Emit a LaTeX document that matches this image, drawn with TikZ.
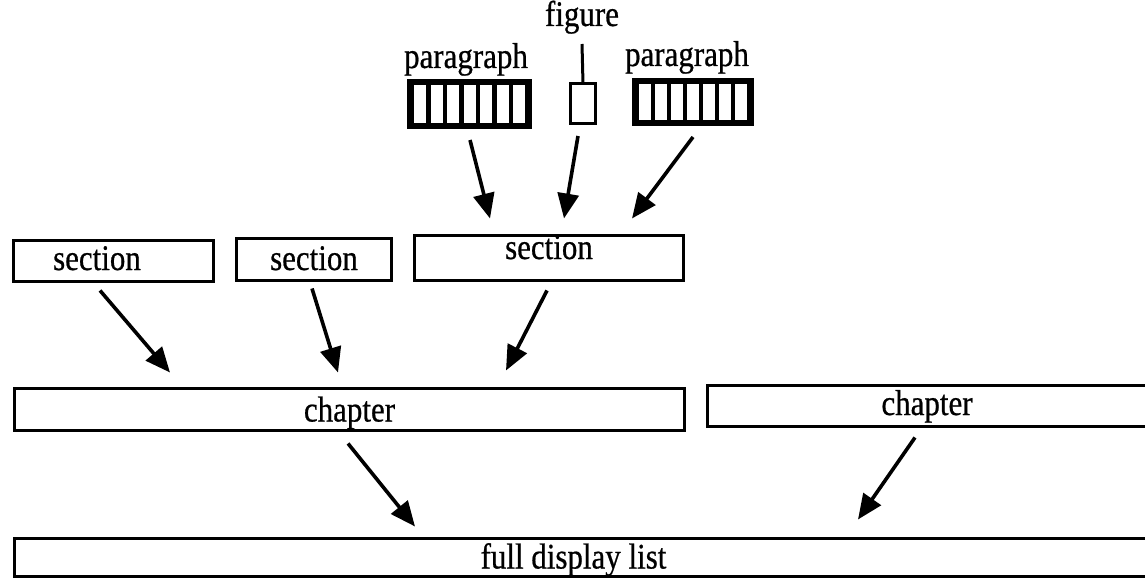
\documentclass[tikz,border=0pt]{standalone}
\usepackage{fontspec}
\setmainfont{Liberation Serif}[FakeStretch=0.86,FakeBold=0.6]
\usetikzlibrary{arrows.meta,calc}

% seven white cells inside a filled paragraph block: node, cell width, cell height
\newcommand\paracells[3]{%
  \foreach \i in {0,...,6}{%
    \fill[white] ([xshift={7pt+\i*(#2pt+4.5pt)},yshift=-6pt]#1.north west)
      rectangle ++(#2pt,-#3pt);}}

\begin{document}
\begin{tikzpicture}[x=1pt,y=-1pt,
  every node/.style={font=\fontsize{36}{40}\selectfont, inner sep=0pt, outer sep=0pt},
  box/.style={draw, line width=3pt, rectangle, text height=21pt, text depth=0pt},
  parblock/.style={fill=black, rectangle},
  figbox/.style={draw, line width=3pt, rectangle, minimum width=25pt, minimum height=40pt},
  arr/.style={line width=3.6pt, -{Triangle[length=25pt,width=21pt]}},
  tick/.style={line width=3pt}]
\useasboundingbox (0,0) rectangle (1145,580);
\clip (0,0) rectangle (1145,580);
\fill[white] (0,0) rectangle (1145,580);

% paragraph blocks and the figure
\node[parblock, minimum width=125pt, minimum height=50pt] (p1) at (469.5,104) {};
\paracells{p1}{12}{38}
\node[figbox] (fig) at (583,103.5) {};
\node[parblock, minimum width=122pt, minimum height=48pt] (p2) at (693,102) {};
\paracells{p2}{11.5}{36}

% their labels
\node[anchor=base] (lp1) at (466,68) {paragraph};
\node[anchor=base] (lfig) at (582,26) {figure};
\node[anchor=base] (lp2) at (687,66) {paragraph};
\coordinate (figtick) at (582,44);
\draw[tick] (fig.north) -- (figtick);

% sections
\node[box, minimum width=200pt, minimum height=41pt, text depth=3pt] (s1) at (113.5,261) {\hspace*{-33pt}section};
\node[box, minimum width=155pt, minimum height=42pt] (s2) at (314,259.5) {section};
\node[box, minimum width=269pt, minimum height=45pt, text depth=19pt] (s3) at (549,258) {section};

% chapters
\node[box, minimum width=670pt, minimum height=42pt, text height=31pt, text depth=7pt] (ch1) at (349.5,409.5) {chapter};
\node[box, minimum width=439pt, minimum height=41pt, text height=25pt, text depth=7pt] (ch2) at (927,406) {chapter};

% the whole list
\node[box, minimum width=1134pt, minimum height=38pt, text height=29pt, text depth=7pt] (full) at (581.5,557.5) {\hspace*{-16pt}full display list};

% paragraphs and figure into the section
\draw[arr] ($(p1.south)+(0.5,11)$) -- ($(s3.north)+(-59,-17)$);
\draw[arr] ($(fig.south)+(-5,12.5)$) -- ($(s3.north)+(15,-17)$);
\draw[arr] ($(p2.south)+(0,11)$) -- ($(s3.north)+(83,-17)$);

% sections into the chapter
\draw[arr] ($(s1.south)+(-13.5,9)$) -- ($(ch1.north)+(-179.5,-16)$);
\draw[arr] ($(s2.south)+(-2,8)$) -- ($(ch1.north)+(-11.5,-16)$);
\draw[arr] ($(s3.south)+(-2,10)$) -- ($(ch1.north)+(156.5,-18)$);

% chapters into the full display list
\draw[arr] ($(ch1.south)+(-1.5,13)$) -- ($(full.north)+(-166.5,-12)$);
\draw[arr] ($(ch2.south)+(-12,11)$) -- ($(full.north)+(276.5,-19)$);
\end{tikzpicture}
\end{document}
